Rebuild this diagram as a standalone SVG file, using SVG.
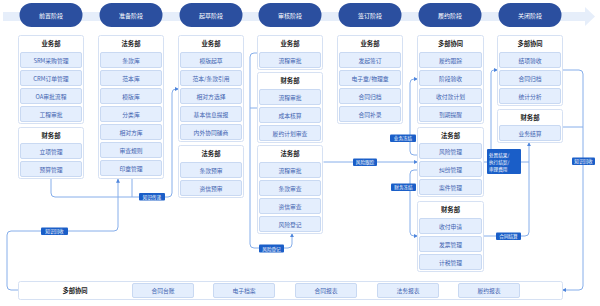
<svg xmlns="http://www.w3.org/2000/svg" width="600" height="306" viewBox="0 0 600 306">
<style>
text{font-family:"Noto Sans CJK SC","Noto Sans",sans-serif;text-anchor:middle;dominant-baseline:central}
.band{fill:#e6eefa}
.pill{fill:#2b4f9f}
.pt{fill:#fff;font-size:6px}
.box{fill:#fff;stroke:#d6e1f3;stroke-width:1}
.item{fill:#e4eefd;stroke:#c9d9f2;stroke-width:1}
.it{fill:#3f63b0;font-size:5.8px}
.hd{fill:#222;font-size:6.3px;font-weight:bold}
.cn{fill:none;stroke:#86aeea;stroke-width:1}
.lb{fill:#1a5ec8}
.lt{fill:#fff;font-size:4.6px}
</style>
<defs>
<marker id="ah" viewBox="0 0 6 6" refX="5.5" refY="3" markerWidth="4" markerHeight="4" markerUnits="userSpaceOnUse" orient="auto">
<path d="M0,0 L6,3 L0,6 z" fill="#4f86dc"/>
</marker>
</defs>

<g id="stage-band">
<rect class="band" x="3" y="12" width="582" height="9"/>
<polygon class="band" points="585,7 595,16.5 585,26"/>
</g>
<g id="stages">
<g id="s1"><rect class="pill" x="19.5" y="3" width="63" height="24" rx="12"/><text class="pt" x="51" y="15">前置阶段</text></g>
<g id="s2"><rect class="pill" x="99.5" y="3" width="63" height="24" rx="12"/><text class="pt" x="131" y="15">准备阶段</text></g>
<g id="s3"><rect class="pill" x="179.5" y="3" width="63" height="24" rx="12"/><text class="pt" x="211" y="15">起草阶段</text></g>
<g id="s4"><rect class="pill" x="258.5" y="3" width="63" height="24" rx="12"/><text class="pt" x="290" y="15">审核阶段</text></g>
<g id="s5"><rect class="pill" x="338.5" y="3" width="63" height="24" rx="12"/><text class="pt" x="370" y="15">签订阶段</text></g>
<g id="s6"><rect class="pill" x="418.5" y="3" width="63" height="24" rx="12"/><text class="pt" x="450" y="15">履约阶段</text></g>
<g id="s7"><rect class="pill" x="498.5" y="3" width="63" height="24" rx="12"/><text class="pt" x="530" y="15">关闭阶段</text></g>
</g>

<g id="connectors">
<path class="cn" d="M51,178.5 V193 Q51,197 55,197 H168 Q172,197 172,193 V93 Q172,89 176,89 H178.5" marker-end="url(#ah)"/>
<path class="cn" d="M132,178.5 V197"/>
<path class="cn" d="M18.5,290 H11 Q7,290 7,286 V235 Q7,231 11,231 H114 Q118,231 118,227 V179" marker-end="url(#ah)"/>
<path class="cn" d="M257.5,53 H254 Q250,53 250,57 V244 Q250,248 254,248 H288 Q292,248 292,244 V233.5" marker-end="url(#ah)"/>
<path class="cn" d="M250,108 H257.5"/>
<path class="cn" d="M323.5,162 H417.5" marker-end="url(#ah)"/>
<path class="cn" d="M417.5,155 H414 Q410,155 410,151 V83 Q410,79 414,79 H417.5" marker-end="url(#ah)"/>
<path class="cn" d="M417.5,170 H414 Q410,170 410,174 V232 Q410,236 414,236 H417.5" marker-end="url(#ah)"/>
<path class="cn" d="M483.5,162 H529"/>
<path class="cn" d="M491,162 V73 Q491,70 494,70 H497.5" marker-end="url(#ah)"/>
<path class="cn" d="M483.5,236 H525 Q529,236 529,232 V142.5" marker-end="url(#ah)"/>
<path class="cn" d="M562.5,70 H579 Q583,70 583,74 V286 Q583,290 579,290 H562.5" marker-end="url(#ah)"/>
<path class="cn" d="M562.5,127 H583"/>
<g id="labels">
<rect class="lb" x="139" y="193" width="26" height="7.5" rx="1"/><text class="lt" x="152" y="196.8">知识传递</text>
<rect class="lb" x="41" y="227.5" width="27" height="7.5" rx="1"/><text class="lt" x="54.5" y="231.3">知识回收</text>
<rect class="lb" x="259" y="244.5" width="25" height="8" rx="1"/><text class="lt" x="271.5" y="248.5">风险登记</text>
<rect class="lb" x="353" y="158.5" width="24" height="7.5" rx="1"/><text class="lt" x="365" y="162.3">风险跟踪</text>
<rect class="lb" x="390" y="134.5" width="26" height="7.5" rx="1"/><text class="lt" x="403" y="138.3">业务冻结</text>
<rect class="lb" x="391" y="183.5" width="25" height="7.5" rx="1"/><text class="lt" x="403.5" y="187.3">财务冻结</text>
<rect class="lb" x="487" y="149" width="34" height="25" rx="1"/>
<text class="lt" x="489" y="154.5" style="text-anchor:start">处置结果/</text>
<text class="lt" x="489" y="161.5" style="text-anchor:start">执行结案/</text>
<text class="lt" x="489" y="168.5" style="text-anchor:start">审理费用</text>
<rect class="lb" x="496" y="232.5" width="25" height="7.5" rx="1"/><text class="lt" x="508.5" y="236.3">合同结算</text>
<rect class="lb" x="572" y="157.5" width="23" height="7.5" rx="1"/><text class="lt" x="583.5" y="161.3">知识回收</text>
</g>
</g>

<g id="c1-biz">
<rect class="box" x="18.5" y="35.5" width="65" height="88" rx="2"/>
<text class="hd" x="51" y="43.5">业务部</text>
<rect class="item" x="20.5" y="52.5" width="61" height="15" rx="1.5"/><text class="it" x="51" y="60">SRM采购管理</text>
<rect class="item" x="20.5" y="70.5" width="61" height="15" rx="1.5"/><text class="it" x="51" y="78">CRM订单管理</text>
<rect class="item" x="20.5" y="88.5" width="61" height="15" rx="1.5"/><text class="it" x="51" y="96">OA审批流程</text>
<rect class="item" x="20.5" y="106.5" width="61" height="15" rx="1.5"/><text class="it" x="51" y="114">工程审批</text>
</g>
<g id="c1-fin">
<rect class="box" x="18.5" y="127.5" width="65" height="51" rx="2"/>
<text class="hd" x="51" y="135">财务部</text>
<rect class="item" x="20.5" y="143.5" width="61" height="15" rx="1.5"/><text class="it" x="51" y="151">立项管理</text>
<rect class="item" x="20.5" y="161.5" width="61" height="15" rx="1.5"/><text class="it" x="51" y="169">预算管理</text>
</g>

<g id="c2-legal">
<rect class="box" x="98.5" y="35.5" width="65" height="143" rx="2"/>
<text class="hd" x="131" y="43.5">法务部</text>
<rect class="item" x="100.5" y="52.5" width="61" height="15" rx="1.5"/><text class="it" x="131" y="60">条款库</text>
<rect class="item" x="100.5" y="70.5" width="61" height="15" rx="1.5"/><text class="it" x="131" y="78">范本库</text>
<rect class="item" x="100.5" y="88.5" width="61" height="15" rx="1.5"/><text class="it" x="131" y="96">模版库</text>
<rect class="item" x="100.5" y="106.5" width="61" height="15" rx="1.5"/><text class="it" x="131" y="114">分类库</text>
<rect class="item" x="100.5" y="124.5" width="61" height="15" rx="1.5"/><text class="it" x="131" y="132">相对方库</text>
<rect class="item" x="100.5" y="142.5" width="61" height="15" rx="1.5"/><text class="it" x="131" y="150">审查规则</text>
<rect class="item" x="100.5" y="160.5" width="61" height="15" rx="1.5"/><text class="it" x="131" y="168">印章管理</text>
</g>

<g id="c3-biz">
<rect class="box" x="178.5" y="35.5" width="65" height="106" rx="2"/>
<text class="hd" x="211" y="43.5">业务部</text>
<rect class="item" x="180.5" y="52.5" width="61" height="15" rx="1.5"/><text class="it" x="211" y="60">模版起草</text>
<rect class="item" x="180.5" y="70.5" width="61" height="15" rx="1.5"/><text class="it" x="211" y="78">范本/条款引用</text>
<rect class="item" x="180.5" y="88.5" width="61" height="15" rx="1.5"/><text class="it" x="211" y="96">相对方选择</text>
<rect class="item" x="180.5" y="106.5" width="61" height="15" rx="1.5"/><text class="it" x="211" y="114">基本信息提报</text>
<rect class="item" x="180.5" y="124.5" width="61" height="15" rx="1.5"/><text class="it" x="211" y="132">内外协同磋商</text>
</g>
<g id="c3-legal">
<rect class="box" x="178.5" y="145.5" width="65" height="52" rx="2"/>
<text class="hd" x="211" y="153.5">法务部</text>
<rect class="item" x="180.5" y="162.5" width="61" height="15" rx="1.5"/><text class="it" x="211" y="170">条款预审</text>
<rect class="item" x="180.5" y="180.5" width="61" height="15" rx="1.5"/><text class="it" x="211" y="188">资信预审</text>
</g>

<g id="c4-biz">
<rect class="box" x="257.5" y="35.5" width="65" height="34" rx="2"/>
<text class="hd" x="290" y="43.5">业务部</text>
<rect class="item" x="259.5" y="52.5" width="61" height="15" rx="1.5"/><text class="it" x="290" y="60">流程审批</text>
</g>
<g id="c4-fin">
<rect class="box" x="257.5" y="72.5" width="65" height="70" rx="2"/>
<text class="hd" x="290" y="80.5">财务部</text>
<rect class="item" x="259.5" y="89.5" width="61" height="15" rx="1.5"/><text class="it" x="290" y="97">流程审批</text>
<rect class="item" x="259.5" y="107.5" width="61" height="15" rx="1.5"/><text class="it" x="290" y="115">成本核算</text>
<rect class="item" x="259.5" y="125.5" width="61" height="15" rx="1.5"/><text class="it" x="290" y="133">履约计划审查</text>
</g>
<g id="c4-legal">
<rect class="box" x="257.5" y="145.5" width="65" height="88" rx="2"/>
<text class="hd" x="290" y="153.5">法务部</text>
<rect class="item" x="259.5" y="162.5" width="61" height="15" rx="1.5"/><text class="it" x="290" y="170">流程审批</text>
<rect class="item" x="259.5" y="180.5" width="61" height="15" rx="1.5"/><text class="it" x="290" y="188">条款审查</text>
<rect class="item" x="259.5" y="198.5" width="61" height="15" rx="1.5"/><text class="it" x="290" y="206">资信审查</text>
<rect class="item" x="259.5" y="216.5" width="61" height="15" rx="1.5"/><text class="it" x="290" y="224">风险登记</text>
</g>

<g id="c5-biz">
<rect class="box" x="337.5" y="35.5" width="65" height="88" rx="2"/>
<text class="hd" x="370" y="43.5">业务部</text>
<rect class="item" x="339.5" y="52.5" width="61" height="15" rx="1.5"/><text class="it" x="370" y="60">发起签订</text>
<rect class="item" x="339.5" y="70.5" width="61" height="15" rx="1.5"/><text class="it" x="370" y="78">电子章/物理章</text>
<rect class="item" x="339.5" y="88.5" width="61" height="15" rx="1.5"/><text class="it" x="370" y="96">合同归档</text>
<rect class="item" x="339.5" y="106.5" width="61" height="15" rx="1.5"/><text class="it" x="370" y="114">合同补录</text>
</g>

<g id="c6-multi">
<rect class="box" x="417.5" y="35.5" width="66" height="88" rx="2"/>
<text class="hd" x="450.5" y="43.5">多部协同</text>
<rect class="item" x="419.5" y="52.5" width="62" height="15" rx="1.5"/><text class="it" x="450.5" y="60">履约跟踪</text>
<rect class="item" x="419.5" y="70.5" width="62" height="15" rx="1.5"/><text class="it" x="450.5" y="78">阶段验收</text>
<rect class="item" x="419.5" y="88.5" width="62" height="15" rx="1.5"/><text class="it" x="450.5" y="96">收付款计划</text>
<rect class="item" x="419.5" y="106.5" width="62" height="15" rx="1.5"/><text class="it" x="450.5" y="114">到期提醒</text>
</g>
<g id="c6-legal">
<rect class="box" x="417.5" y="127.5" width="66" height="69" rx="2"/>
<text class="hd" x="450.5" y="135">法务部</text>
<rect class="item" x="419.5" y="143.5" width="62" height="15" rx="1.5"/><text class="it" x="450.5" y="151">风险管理</text>
<rect class="item" x="419.5" y="161.5" width="62" height="15" rx="1.5"/><text class="it" x="450.5" y="169">纠纷管理</text>
<rect class="item" x="419.5" y="179.5" width="62" height="15" rx="1.5"/><text class="it" x="450.5" y="187">案件管理</text>
</g>
<g id="c6-fin">
<rect class="box" x="417.5" y="201.5" width="66" height="70" rx="2"/>
<text class="hd" x="450.5" y="209">财务部</text>
<rect class="item" x="419.5" y="218.5" width="62" height="15" rx="1.5"/><text class="it" x="450.5" y="226">收付申请</text>
<rect class="item" x="419.5" y="236.5" width="62" height="15" rx="1.5"/><text class="it" x="450.5" y="244">发票管理</text>
<rect class="item" x="419.5" y="254.5" width="62" height="15" rx="1.5"/><text class="it" x="450.5" y="262">计税管理</text>
</g>

<g id="c7-multi">
<rect class="box" x="497.5" y="35.5" width="65" height="70" rx="2"/>
<text class="hd" x="530" y="43.5">多部协同</text>
<rect class="item" x="499.5" y="52.5" width="61" height="15" rx="1.5"/><text class="it" x="530" y="60">结项验收</text>
<rect class="item" x="499.5" y="70.5" width="61" height="15" rx="1.5"/><text class="it" x="530" y="78">合同归档</text>
<rect class="item" x="499.5" y="88.5" width="61" height="15" rx="1.5"/><text class="it" x="530" y="96">统计分析</text>
</g>
<g id="c7-fin">
<rect class="box" x="497.5" y="109.5" width="65" height="33" rx="2"/>
<text class="hd" x="530" y="117">财务部</text>
<rect class="item" x="499.5" y="125.5" width="61" height="15" rx="1.5"/><text class="it" x="530" y="133">业务结算</text>
</g>

<g id="bottom-multi">
<rect class="box" x="18.5" y="281.5" width="544" height="18" rx="2"/>
<text class="hd" x="75" y="290.5">多部协同</text>
<rect class="item" x="132.5" y="283.5" width="61" height="14" rx="1.5"/><text class="it" x="163" y="290.5">合同台账</text>
<rect class="item" x="213.5" y="283.5" width="61" height="14" rx="1.5"/><text class="it" x="244" y="290.5">电子档案</text>
<rect class="item" x="295.5" y="283.5" width="61" height="14" rx="1.5"/><text class="it" x="326" y="290.5">合同报表</text>
<rect class="item" x="377.5" y="283.5" width="61" height="14" rx="1.5"/><text class="it" x="408" y="290.5">法务报表</text>
<rect class="item" x="458.5" y="283.5" width="61" height="14" rx="1.5"/><text class="it" x="489" y="290.5">履约报表</text>
</g>
</svg>
